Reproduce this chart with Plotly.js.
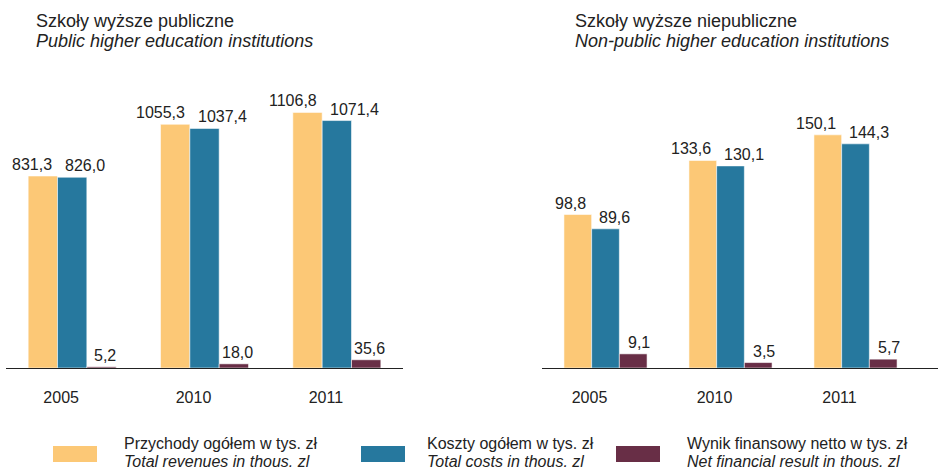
<!DOCTYPE html>
<html>
<head>
<meta charset="utf-8">
<script src="https://cdn.plot.ly/plotly-3.0.1.min.js"></script>
<style>html,body{margin:0;padding:0;background:#fff;}#chart{width:938px;height:470px;}</style>
</head>
<body>
<div id="chart"></div>
<script>
const categories = ['2005', '2010', '2011'];
const publicRevenue = [831.3, 1055.3, 1106.8];
const publicCosts = [826.0, 1037.4, 1071.4];
const publicNet = [5.2, 18.0, 35.6];
const nonPublicRevenue = [98.8, 133.6, 150.1];
const nonPublicCosts = [89.6, 130.1, 144.3];
const nonPublicNet = [9.1, 3.5, 5.7];
const seriesNamesPl = ['Przychody ogółem w tys. zł', 'Koszty ogółem w tys. zł', 'Wynik finansowy netto w tys. zł'];
const seriesNamesEn = ['Total revenues in thous. zl', 'Total costs in thous. zl', 'Net financial result in thous. zl'];
const panelTitlesPl = ['Szkoły wyższe publiczne', 'Szkoły wyższe niepubliczne'];
const panelTitlesEn = ['Public higher education institutions', 'Non-public higher education institutions'];

const colors = ['#FCC876', '#26789E', '#682E46'];
const W = 938, H = 470;
const px = x => x / W;
const py = y => 1 - y / H;
const fmt = v => v.toFixed(1).replace('.', ',');
const FONT = 'Liberation Sans, Arial, Helvetica, sans-serif';
const TXT = '#222222';

const panels = [
  {series: [publicRevenue, publicCosts, publicNet], xa: 'x', ya: 'y'},
  {series: [nonPublicRevenue, nonPublicCosts, nonPublicNet], xa: 'x2', ya: 'y2'}
];

const traces = [];
const annotations = [];
const labelStyle = [
  {xanchor: 'right', xshift: -18},
  {xanchor: 'left', xshift: -9},
  {xanchor: 'center', xshift: 33}
];
panels.forEach(p => {
  p.series.forEach((vals, s) => {
    traces.push({
      type: 'bar', x: categories, y: vals, name: seriesNamesPl[s],
      xaxis: p.xa, yaxis: p.ya,
      marker: {color: colors[s], line: {color: 'rgba(255,255,255,0.55)', width: 1}},
      hoverinfo: 'none', showlegend: false
    });
    vals.forEach((v, i) => {
      annotations.push({
        x: i, y: v, xref: p.xa, yref: p.ya,
        text: fmt(v), showarrow: false,
        xanchor: labelStyle[s].xanchor, xshift: labelStyle[s].xshift,
        yanchor: 'bottom', yshift: 1,
        font: {family: FONT, size: 16, color: TXT}
      });
    });
  });
});

// Panel titles
const titleX = [34, 573];
titleX.forEach((tx, k) => {
  annotations.push({xref: 'paper', yref: 'paper', x: px(tx), y: py(9), xanchor: 'left', yanchor: 'top',
    text: panelTitlesPl[k], showarrow: false, font: {family: FONT, size: 18, color: TXT}});
  annotations.push({xref: 'paper', yref: 'paper', x: px(tx), y: py(29), xanchor: 'left', yanchor: 'top',
    text: '<i>' + panelTitlesEn[k] + '</i>', showarrow: false, font: {family: FONT, size: 18, color: TXT}});
});

// Legend
const swatchX = [53, 361, 616];
const legTextX = [122, 425, 685];
const shapes = [];
swatchX.forEach((sx, k) => {
  shapes.push({type: 'rect', xref: 'paper', yref: 'paper', x0: px(sx), x1: px(sx + 44), y0: py(462), y1: py(446),
    fillcolor: colors[k], line: {width: 0}});
  annotations.push({xref: 'paper', yref: 'paper', x: px(legTextX[k]), y: py(433), xanchor: 'left', yanchor: 'top',
    text: seriesNamesPl[k], showarrow: false, font: {family: FONT, size: 16, color: TXT}});
  annotations.push({xref: 'paper', yref: 'paper', x: px(legTextX[k]), y: py(451), xanchor: 'left', yanchor: 'top',
    text: '<i>' + seriesNamesEn[k] + '</i>', showarrow: false, font: {family: FONT, size: 16, color: TXT}});
});

const yDomain = [py(368), py(80)];
const xCommon = {
  type: 'category', showgrid: false, zeroline: false, showline: true, linecolor: '#222', linewidth: 1,
  ticks: '', tickfont: {family: FONT, size: 16, color: TXT}, ticklabelstandoff: 15, fixedrange: true
};
const yCommon = {visible: false, showgrid: false, zeroline: false, fixedrange: true};

const layout = {
  width: W, height: H,
  margin: {l: 0, r: 0, t: 0, b: 0},
  paper_bgcolor: '#fff', plot_bgcolor: 'rgba(0,0,0,0)',
  font: {family: FONT, color: TXT},
  barmode: 'group', bargap: 0.335, bargroupgap: 0,
  showlegend: false,
  xaxis: Object.assign({}, xCommon, {domain: [px(6), px(403)], range: [-0.5, 2.5], anchor: 'y', ticklabelshift: -11}),
  yaxis: Object.assign({}, yCommon, {domain: yDomain, range: [0, 1247], anchor: 'x'}),
  xaxis2: Object.assign({}, xCommon, {domain: [px(542), 1], range: [-0.508, 2.66], anchor: 'y2', ticklabelshift: -16}),
  yaxis2: Object.assign({}, yCommon, {domain: yDomain, range: [0, 185.4], anchor: 'x2'}),
  annotations: annotations,
  shapes: shapes
};

Plotly.newPlot('chart', traces, layout, {staticPlot: true, displayModeBar: false});
</script>
</body>
</html>
